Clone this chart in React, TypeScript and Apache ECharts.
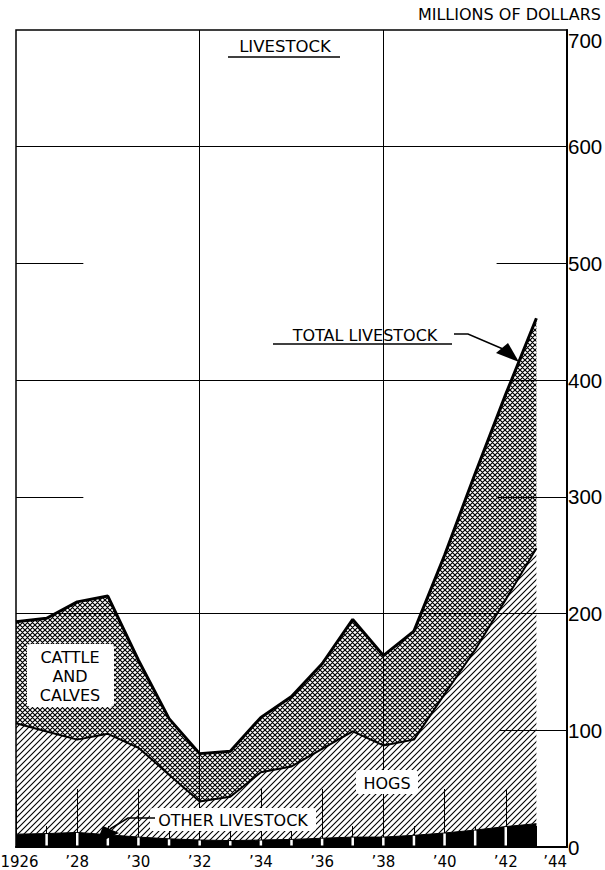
import React, { useEffect, useRef } from "react";
import * as echarts from "echarts";

// ---- data (millions of dollars) ----
const years = [1926, 1927, 1928, 1929, 1930, 1931, 1932, 1933, 1934, 1935, 1936, 1937, 1938, 1939, 1940, 1941, 1942, 1943];
const axisYears = [1926, 1927, 1928, 1929, 1930, 1931, 1932, 1933, 1934, 1935, 1936, 1937, 1938, 1939, 1940, 1941, 1942, 1943, 1944];
const otherLivestock = [11, 11.5, 12.5, 10.5, 8.5, 7, 6, 5.5, 6, 6.5, 7.5, 8.5, 8.5, 10, 12, 14.5, 17.5, 20];
const hogs = [95, 87.5, 79.5, 86.5, 76.5, 55, 33, 37.5, 58, 62.5, 76.5, 90.5, 78.5, 82, 119, 154.5, 194.5, 236];
const cattleAndCalves = [87, 97, 118, 118, 75, 48, 41, 39, 47, 60, 73, 96, 77, 93, 119, 151, 176, 197];
const yTickValues = [0, 100, 200, 300, 400, 500, 600, 700];

const FONT = "'DejaVu Sans', Verdana, sans-serif";
const NUMFONT = "'Liberation Sans', Arial, sans-serif";

function makePattern(size: number, lw: number, cross: boolean) {
  const c = document.createElement("canvas");
  c.width = size;
  c.height = size;
  const ctx = c.getContext("2d")!;
  ctx.strokeStyle = "#000";
  ctx.lineWidth = lw;
  ctx.beginPath();
  ctx.moveTo(-1, size + 1);
  ctx.lineTo(size + 1, -1);
  ctx.moveTo(-1, 1);
  ctx.lineTo(1, -1);
  ctx.moveTo(size - 1, size + 1);
  ctx.lineTo(size + 1, size - 1);
  if (cross) {
    ctx.moveTo(-1, -1);
    ctx.lineTo(size + 1, size + 1);
    ctx.moveTo(size - 1, -1);
    ctx.lineTo(size + 1, 1);
    ctx.moveTo(-1, size - 1);
    ctx.lineTo(1, size + 1);
  }
  ctx.stroke();
  return { image: c, repeat: "repeat", imageWidth: size, imageHeight: size } as any;
}

export default function App() {
  const ref = useRef<HTMLDivElement>(null);

  useEffect(() => {
    document.body.style.margin = "0";
    const chart = echarts.init(ref.current!, undefined, { renderer: "svg" });
    const hatch = makePattern(6, 1.1, false);
    const crossHatch = makePattern(5, 1.2, true);

    const seg = (x1: number, x2: number, y: number) => [{ coord: [x1, y] }, { coord: [x2, y] }];
    const vseg = (x: number) => [{ coord: [x, 0] }, { coord: [x, 700] }];

    const whiteTicks = years
      .map((y, i) => [y, otherLivestock[i]])
      .filter((d) => d[0] > 1926 && d[0] < 1943);

    const textEl = (t: string, x: number, y: number, extra: any = {}) => ({
      type: "text",
      x,
      y,
      z: 100,
      style: {
        text: t,
        fill: "#000",
        font: `16px ${FONT}`,
        align: "center",
        verticalAlign: "middle",
        ...extra,
      },
    });

    const yAxisBase = {
      type: "value",
      position: "right",
      min: 0,
      max: 700,
      interval: 100,
      axisTick: { show: false },
      splitLine: { show: false },
    };

    const option: any = {
      animation: false,
      backgroundColor: "#fff",
      grid: {
        left: 16,
        right: 38,
        top: 30,
        bottom: 23,
        containLabel: false,
        outerBoundsMode: "none",
        show: true,
        borderColor: "#000",
        borderWidth: 1.5,
        backgroundColor: "transparent",
      },
      xAxis: [
        {
          type: "category",
          data: axisYears.map(String),
          boundaryGap: false,
          show: false,
        },
        {
          type: "value",
          min: 1926,
          max: 1944,
          interval: 2,
          position: "bottom",
          z: 6,
          axisLine: { show: true, lineStyle: { color: "#000", width: 2 } },
          axisTick: { show: true, inside: true, length: 58, lineStyle: { color: "#000", width: 1 } },
          minorTick: { show: true, splitNumber: 2, length: 21, lineStyle: { color: "#000", width: 1 } },
          splitLine: { show: false },
          minorSplitLine: { show: false },
          axisLabel: {
            color: "#000",
            fontFamily: FONT,
            fontSize: 15,
            margin: 7,
            alignMaxLabel: "right",
            formatter: (v: number) => (v === 1926 ? "{first|1926}" : "\u2019" + String(v).slice(2)),
            rich: {
              first: { fontFamily: FONT, fontSize: 15, color: "#000", padding: [0, 0, 0, 7] },
            },
          },
        },
      ],
      yAxis: [
        {
          ...yAxisBase,
          axisLine: { show: true, lineStyle: { color: "#000", width: 2 } },
          axisLabel: {
            color: "#000",
            fontFamily: NUMFONT,
            fontSize: 20.5,
            margin: 1,
            formatter: (v: number) => (yTickValues.includes(v) && v !== 700 ? String(v) : ""),
          },
        },
        {
          ...yAxisBase,
          axisLine: { show: false },
          axisLabel: {
            color: "#000",
            fontFamily: NUMFONT,
            fontSize: 20.5,
            margin: 1,
            verticalAlign: "top",
            formatter: (v: number) => (v === 700 ? String(v) : ""),
          },
        },
      ],
      series: [
        {
          name: "Other livestock",
          type: "line",
          xAxisIndex: 0,
          stack: "total",
          data: otherLivestock,
          symbol: "none",
          lineStyle: { color: "#000", width: 1 },
          areaStyle: { color: "#000", opacity: 1 },
        },
        {
          name: "Hogs",
          type: "line",
          xAxisIndex: 0,
          stack: "total",
          data: hogs,
          symbol: "none",
          lineStyle: { color: "#000", width: 2 },
          areaStyle: { color: hatch, opacity: 1 },
        },
        {
          name: "Cattle and calves",
          type: "line",
          xAxisIndex: 0,
          stack: "total",
          data: cattleAndCalves,
          symbol: "none",
          lineStyle: { color: "#000", width: 3 },
          areaStyle: { color: crossHatch, opacity: 1 },
        },
        {
          name: "grid",
          type: "line",
          xAxisIndex: 1,
          data: [],
          symbol: "none",
          silent: true,
          markLine: {
            silent: true,
            symbol: "none",
            z: 3,
            label: { show: false },
            lineStyle: { color: "#000", width: 1, type: "solid" },
            data: [
              seg(1926, 1944, 200),
              seg(1926, 1944, 400),
              seg(1926, 1944, 600),
              seg(1941.8, 1944, 100),
              seg(1926, 1928.2, 300),
              seg(1941.7, 1944, 300),
              seg(1926, 1928.2, 500),
              seg(1941.7, 1944, 500),
              vseg(1932),
              vseg(1938),
            ],
          },
        },
        {
          name: "ticks",
          type: "custom",
          xAxisIndex: 1,
          z: 10,
          silent: true,
          data: whiteTicks,
          renderItem: (params: any, api: any) => {
            const x = api.value(0);
            const v = api.value(1);
            const p0 = api.coord([x, 0]);
            const p1 = api.coord([x, v]);
            return {
              type: "line",
              shape: { x1: p0[0], y1: p0[1] - 1.5, x2: p1[0], y2: p1[1] + 0.5 },
              style: { stroke: "#fff", lineWidth: 2.5 },
            };
          },
        },
      ],
      graphic: [
        textEl("MILLIONS OF DOLLARS", 601, 14, { align: "right", font: `16px ${FONT}` }),
        textEl("LIVESTOCK", 285, 46, { font: `16.5px ${FONT}` }),
        { type: "line", z: 100, shape: { x1: 228, y1: 57, x2: 340, y2: 57 }, style: { stroke: "#000", lineWidth: 1.5 } },
        textEl("TOTAL LIVESTOCK", 365, 335),
        { type: "line", z: 100, shape: { x1: 273, y1: 344, x2: 452, y2: 344 }, style: { stroke: "#000", lineWidth: 1.5 } },
        {
          type: "polyline",
          z: 100,
          shape: { points: [[454, 334], [468, 334], [503, 349]] },
          style: { stroke: "#000", lineWidth: 1.5, fill: "none" },
        },
        {
          type: "polygon",
          z: 100,
          shape: { points: [[496, 353], [508, 343], [519, 362]] },
          style: { fill: "#000" },
        },
        { type: "rect", z: 99, shape: { x: 27, y: 644, width: 87, height: 63, r: 4 }, style: { fill: "#fff" } },
        textEl("CATTLE\nAND\nCALVES", 70, 676, { lineHeight: 19 }),
        { type: "rect", z: 99, shape: { x: 356, y: 770, width: 62, height: 24, r: 3 }, style: { fill: "#fff" } },
        textEl("HOGS", 387, 783),
        { type: "rect", z: 99, shape: { x: 150, y: 808, width: 166, height: 23, r: 3 }, style: { fill: "#fff" } },
        textEl("OTHER LIVESTOCK", 233, 820),
        {
          type: "polyline",
          z: 100,
          shape: { points: [[155, 818], [128, 818], [110, 829]] },
          style: { stroke: "#000", lineWidth: 1.5, fill: "none" },
        },
        {
          type: "polygon",
          z: 100,
          shape: { points: [[103, 826], [119, 833], [96, 844]] },
          style: { fill: "#000" },
        },
      ],
    };

    chart.setOption(option);
    return () => chart.dispose();
  }, []);

  return (
    <div
      ref={ref}
      style={{ position: "absolute", left: 0, top: 0, width: 605, height: 870, background: "#fff" }}
    />
  );
}
